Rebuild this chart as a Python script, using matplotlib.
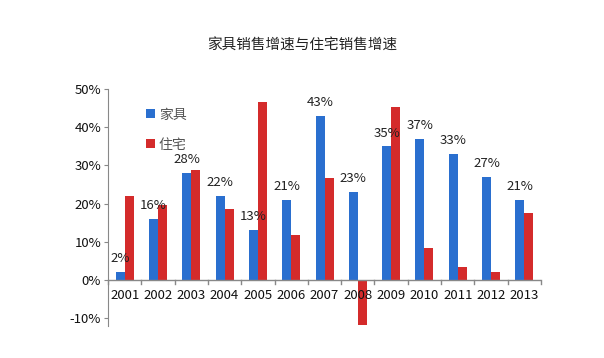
import numpy as np
import matplotlib.pyplot as plt
from matplotlib.ticker import FuncFormatter

plt.rcParams['font.family'] = ['Noto Sans CJK SC', 'DejaVu Sans']

# 年份与增速数据（%）
anios = ['2001', '2002', '2003', '2004', '2005', '2006', '2007',
         '2008', '2009', '2010', '2011', '2012', '2013']
jiaju = [2, 16, 28, 22, 13, 21, 43, 23, 35, 37, 33, 27, 21]
zhuzhai = [22.1, 19.7, 28.9, 18.7, 46.7, 11.7, 26.6, -11.8, 45.4, 8.4, 3.5, 2.2, 17.6]

azul = '#2a6fcf'
rojo = '#d42b2b'

fig = plt.figure(figsize=(6.04, 3.58), dpi=100)
ax = fig.add_axes([0.1788, 0.09, 0.717, 0.661])

x = np.arange(len(anios))
w = 0.27
ax.bar(x - w / 2, jiaju, w, color=azul, label='家具')
ax.bar(x + w / 2, zhuzhai, w, color=rojo, label='住宅')

# etiquetas sobre las barras azules
for xi, v in zip(x, jiaju):
    ax.text(xi - w / 2, v + 1.8, f'{v}%', ha='center', va='bottom',
            fontsize=9.5, color='#222222')

ax.set_xlim(-0.5, len(anios) - 0.5)
ax.set_ylim(-12, 50)
ax.set_yticks(np.arange(-10, 51, 10))
ax.yaxis.set_major_formatter(FuncFormatter(lambda v, p: f'{v:.0f}%'))

for s in ['top', 'right', 'bottom']:
    ax.spines[s].set_visible(False)
ax.spines['left'].set_color('#888888')
ax.axhline(0, color='#888888', lw=1, zorder=3)

# marcas del eje x en los límites de categoría, sobre la línea de cero
for b in np.arange(-0.5, len(anios), 1.0):
    ax.plot([b, b], [0, -1.0], color='#888888', lw=1, clip_on=False, zorder=3)
ax.set_xticks([])
for xi, lab in zip(x, anios):
    ax.text(xi, -2.4, lab, ha='center', va='top', fontsize=9.5, color='#111111')

ax.tick_params(axis='y', length=3, color='#888888', labelsize=9.5,
               labelcolor='#111111', pad=2)

ax.legend(loc='upper left', bbox_to_anchor=(0.06, 0.975), frameon=False,
          fontsize=10, handlelength=0.6, handleheight=0.6,
          labelspacing=1.15, handletextpad=0.3, labelcolor='#555555')

fig.text(0.5, 0.872, '家具销售增速与住宅销售增速', ha='center', va='center',
         fontsize=10.5, color='#222222')

fig.savefig('out.png', dpi=100)
